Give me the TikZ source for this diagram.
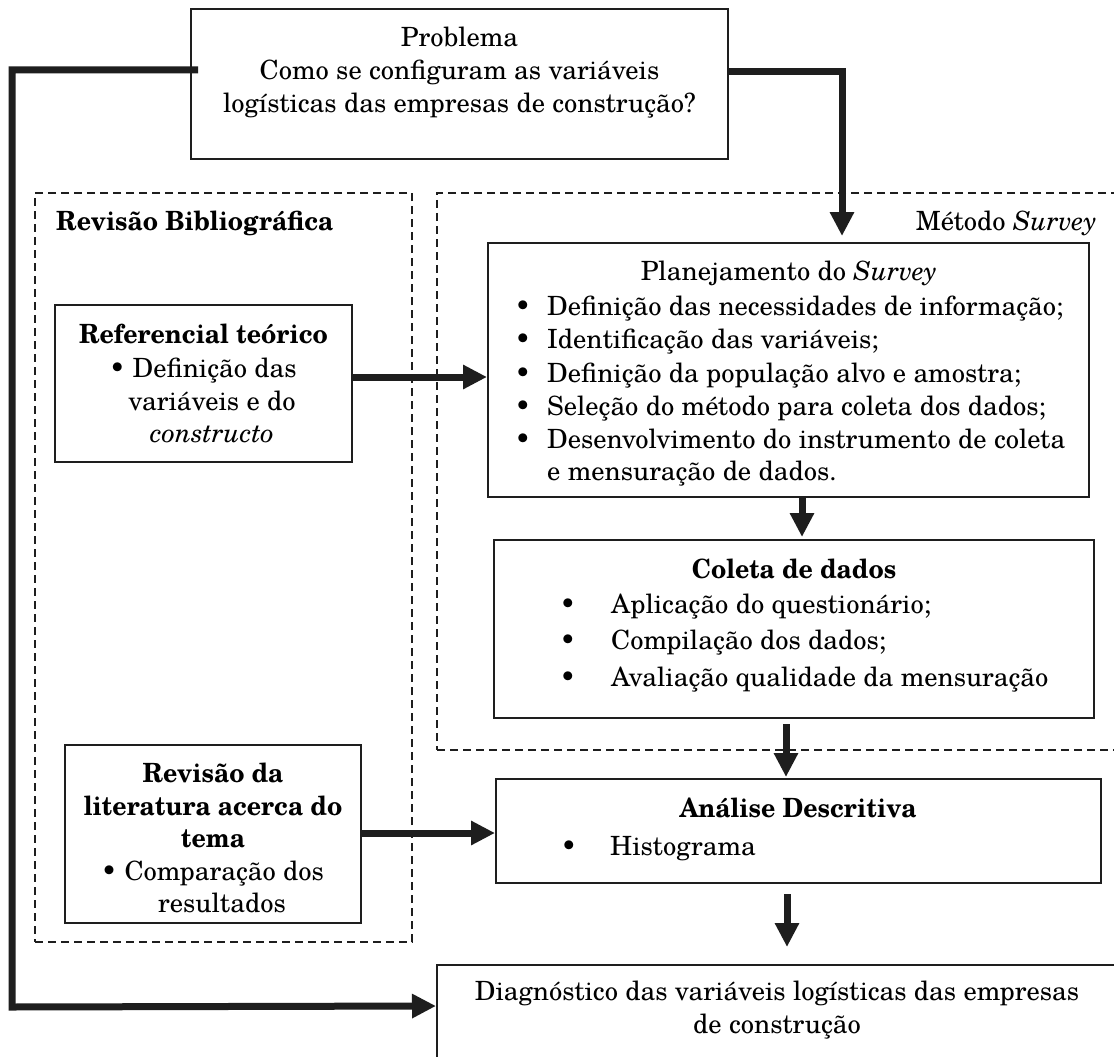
\documentclass[tikz,border=0pt]{standalone}
\usepackage{fontspec}
\setmainfont{texgyreschola}[Extension=.otf, UprightFont=*-regular, BoldFont=*-bold, ItalicFont=*-italic, BoldItalicFont=*-bolditalic, BoldFeatures={FakeStretch=0.94}]
\usetikzlibrary{arrows.meta,calc}
\definecolor{ink}{RGB}{30,30,30}
\newcommand\dfont{\fontsize{26.5}{33}\selectfont}
\tikzset{
  box/.style={draw=ink, line width=2pt, inner sep=0pt, minimum width=#1},
  dashbox/.style={draw=ink, line width=1.6pt, dash pattern=on 8pt off 5pt, inner sep=0pt},
  ar/.style={draw=ink, line width=7pt, -{Triangle[length=24pt,width=23pt]}},
  txt/.style={inner sep=0pt, font=\dfont, anchor=base},
  txtl/.style={inner sep=0pt, font=\dfont, anchor=base west},
  txtr/.style={inner sep=0pt, font=\dfont, anchor=base east},
}
\begin{document}
\begin{tikzpicture}[x=1pt,y=-1pt]
\useasboundingbox[fill=white] (0,0) rectangle (1114,1057);
\clip (0,0) rectangle (1114,1057);

% dashed groups
\node[dashbox, minimum width=377pt, minimum height=749pt] (revbib) at (223.5,567.5) {};
\node[dashbox, minimum width=693pt, minimum height=557pt] (metodo) at (783.5,471.5) {};

% boxes
\node[box=537pt, minimum height=150pt] (prob) at (459.5,84) {};
\node[box=297pt, minimum height=157pt] (ref) at (203.5,383.5) {};
\node[box=601pt, minimum height=254pt] (plan) at (788.5,370) {};
\node[box=600pt, minimum height=178pt] (col) at (794,629) {};
\node[box=605pt, minimum height=104pt] (ana) at (798.5,831) {};
\node[box=296pt, minimum height=178pt] (rev) at (213,834) {};
\node[box=693pt, minimum height=115pt] (diag) at (783.5,1022.5) {};

% texts: problem
\node[txt] (p1) at (459.5,47) {Problema};
\node[txt] (p2) at (459.5,80) {Como se configuram as variáveis};
\node[txt] (p3) at (459.5,112) {logísticas das empresas de construção?};

% group labels
\node[txtl] (lrb) at (56,230) {\bfseries Revisão Bibliográfica};
\node[txtr] (lms) at (1097,230) {Método \textit{Survey}};

% referencial
\node[txt] (r1) at (203.5,343) {\bfseries Referencial teórico};
\node[txt] (r2) at (203,377) {• Definição das};
\node[txt] (r3) at (212,410) {variáveis e do};
\node[txt] (r4) at (212,442) {\itshape constructo};

% planejamento
\node[txt] (pl0) at (789,280) {Planejamento do \textit{Survey}};
\foreach \y/\t [count=\i] in {315/{Definição das necessidades de informação;},
  348/{Identificação das variáveis;},
  382/{Definição da população alvo e amostra;},
  415/{Seleção do método para coleta dos dados;},
  448/{Desenvolvimento do instrumento de coleta}}{
  \node[txt] (plb\i) at (523,\y) {•};
  \node[txtl] (plt\i) at (547,\y) {\t};
}
\node[txtl] (plt6) at (547,480) {e mensuração de dados.};

% coleta
\node[txt] (c0) at (794,578) {\bfseries Coleta de dados};
\foreach \y/\t [count=\i] in {613/{Aplicação do questionário;},
  649/{Compilação dos dados;},
  686/{Avaliação qualidade da mensuração}}{
  \node[txt] (cb\i) at (568,\y) {•};
  \node[txtl] (ct\i) at (611,\y) {\t};
}

% analise
\node[txt] (a0) at (798,817) {\bfseries Análise Descritiva};
\node[txt] (ab1) at (569,855) {•};
\node[txtl] (at1) at (610,855) {Histograma};

% revisao da literatura
\node[txt] (v1) at (213,782) {\bfseries Revisão da};
\node[txt] (v2) at (213,815) {\bfseries literatura acerca do};
\node[txt] (v3) at (213,847) {\bfseries tema};
\node[txt] (v4) at (212.5,880) {• Comparação dos};
\node[txt] (v5) at (222,912) {resultados};

% diagnostico
\node[txt] (d1) at (777,1000) {Diagnóstico das variáveis logísticas das empresas};
\node[txt] (d2) at (777,1033) {de construção};

% connectors
\coordinate (lc) at (12,1007);
\draw[ar] ($(prob.west)+(8,-14)$) -| (lc) -- ($(diag.north west)+(0,42)$);
\draw[ar] ($(prob.east)+(0,-12)$) -| ($(plan.north)+(53.5,-6)$);
\draw[ar] ($(ref.east)+(0,-6.5)$) -- ($(ref.east -| plan.west)+(0,-6.5)$);
\draw[ar] ($(plan.south)+(13.5,0)$) -- ($(plan.south |- col.north)+(13.5,-2)$);
\draw[ar] ($(col.south)+(-8,5)$) -- ($(col.south |- ana.north)+(-8,-1)$);
\draw[ar] ($(ana.south)+(-11.5,10)$) -- ($(ana.south |- diag.north)+(-11.5,-17)$);
\draw[ar] ($(rev.east)+(0,-1)$) -- ($(rev.east -| ana.west)+(0,-1)$);
\end{tikzpicture}
\end{document}
